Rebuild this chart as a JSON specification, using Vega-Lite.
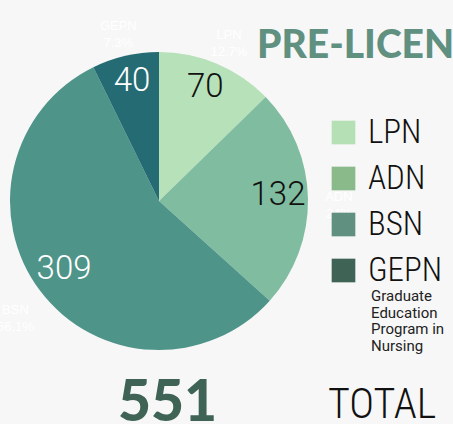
{
  "$schema": "https://vega.github.io/schema/vega-lite/v6.json",
  "width": 318,
  "height": 402,
  "padding": {"left": 0, "top": 0, "right": 135, "bottom": 22},
  "autosize": {"type": "none"},
  "background": "#f7f7f7",
  "config": {"view": {"stroke": null}},
  "data": {"values": [
    {"cat": "LPN", "count": 70, "pct": "12.7%", "rank": 1},
    {"cat": "ADN", "count": 132, "pct": "24%", "rank": 2},
    {"cat": "BSN", "count": 309, "pct": "56.1%", "rank": 3},
    {"cat": "GEPN", "count": 40, "pct": "7.3%", "rank": 4}
  ]},
  "layer": [
    {
      "mark": {"type": "arc", "outerRadius": 149},
      "encoding": {
        "theta": {"field": "count", "type": "quantitative", "stack": true},
        "order": {"field": "rank", "type": "quantitative"},
        "color": {"field": "cat", "type": "nominal",
          "scale": {"domain": ["LPN", "ADN", "BSN", "GEPN"], "range": ["#b7e1b9", "#80bca0", "#4f9489", "#256b74"]},
          "legend": null}
      }
    },
    {
      "mark": {"type": "text", "radius": 119, "dy": -4, "font": "Roboto", "fontSize": 33, "fontWeight": 300},
      "encoding": {
        "theta": {"field": "count", "type": "quantitative", "stack": true},
        "order": {"field": "rank", "type": "quantitative"},
        "text": {"field": "count", "type": "quantitative"},
        "color": {"condition": {"test": "datum.count > 200 || datum.count < 50", "value": "#ffffff"}, "value": "#111111"}
      }
    },
    {
      "transform": [{"calculate": "[datum.cat, datum.pct]", "as": "lab"}],
      "mark": {"type": "text", "radius": 180, "font": "Liberation Sans, Arial", "fontSize": 13, "lineHeight": 17, "color": "#ffffff"},
      "encoding": {
        "theta": {"field": "count", "type": "quantitative", "stack": true},
        "order": {"field": "rank", "type": "quantitative"},
        "text": {"field": "lab"}
      }
    },
    {
      "mark": {"type": "square", "opacity": 0},
      "encoding": {
        "color": {"field": "cat", "type": "nominal",
          "scale": {"domain": ["LPN", "ADN", "BSN", "GEPN"], "range": ["#b5dfb4", "#8aba8a", "#5f9080", "#3f6456"]},
          "legend": {"orient": "none", "legendX": 327, "legendY": 116, "title": null, "symbolType": "square", "symbolSize": 560, "symbolOpacity": 1, "symbolStrokeWidth": 0, "labelFont": "'Roboto Condensed', 'DejaVu Sans Condensed', 'Liberation Sans Narrow', Roboto", "labelFontSize": 33, "labelFontWeight": 300, "labelColor": "#111111", "labelOffset": 8, "rowPadding": 12, "padding": 0}
        }
      }
    },
    {
      "data": {"values": [{"t": "PRE-LICENSURE"}]},
      "mark": {"type": "text", "x": 257, "y": 58, "align": "left", "baseline": "alphabetic", "font": "Lato", "fontWeight": 900, "fontSize": 39, "color": "#5f9080"},
      "encoding": {"text": {"field": "t"}}
    },
    {
      "transform": [{"aggregate": [{"op": "sum", "field": "count", "as": "total"}]}],
      "mark": {"type": "text", "x": 118, "y": 421, "align": "left", "baseline": "alphabetic", "font": "Lato", "fontWeight": 900, "fontSize": 57, "color": "#3f6456"},
      "encoding": {"text": {"field": "total", "type": "quantitative"}}
    },
    {
      "data": {"values": [{"t": "TOTAL"}]},
      "mark": {"type": "text", "x": 328, "y": 418, "align": "left", "baseline": "alphabetic", "font": "'Roboto Condensed', 'DejaVu Sans Condensed', 'Liberation Sans Narrow', Roboto", "fontWeight": 300, "fontSize": 42, "color": "#111111"},
      "encoding": {"text": {"field": "t"}}
    },
    {
      "data": {"values": [{"t": ["Graduate", "Education", "Program in", "Nursing"]}]},
      "mark": {"type": "text", "x": 371, "y": 289, "align": "left", "baseline": "top", "font": "Roboto", "fontSize": 15, "lineHeight": 16.7, "color": "#222222"},
      "encoding": {"text": {"field": "t"}}
    }
  ],
  "resolve": {"scale": {"color": "independent"}}
}
